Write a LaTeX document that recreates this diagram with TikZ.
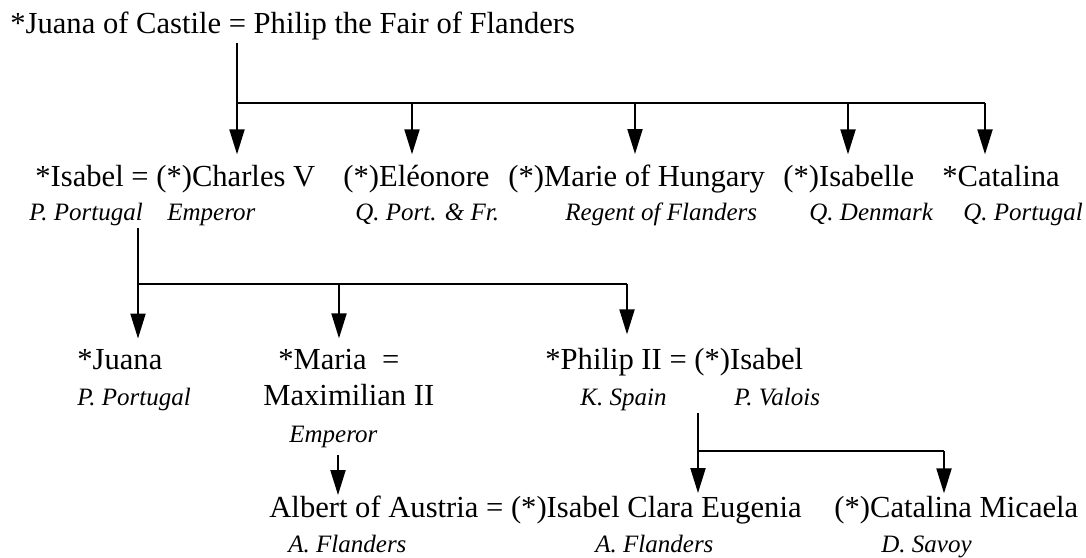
\documentclass[tikz,border=0pt]{standalone}
\usepackage{fontspec}
\setmainfont{Liberation Serif}
\usetikzlibrary{arrows.meta,calc}

\begin{document}
\begin{tikzpicture}[x=0.5pt, y=-0.5pt,
    person/.style={anchor=base west, inner sep=0pt, font=\fontsize{15.3}{18}\selectfont},
    rank/.style={anchor=base west, inner sep=0pt, font=\fontsize{12.5}{15}\selectfont\itshape},
    line/.style={line width=1pt},
    desc/.style={line width=1pt, shorten >=5pt, -{Triangle[length=12.5pt, width=7.5pt]}}]
  \useasboundingbox (0,0) rectangle (1086,557);

  % generation 0
  \node[person] (j_0) at (10,33) {*Juana of Castile = Philip the Fair of Flanders};

  % generation 1
  \node[person] (c_1) at (35,186)  {*Isabel = (*)Charles V};
  \node[person] (c_2) at (343,186) {(*)Eléonore};
  \node[person] (c_3) at (508,186) {(*)Marie of Hungary};
  \node[person] (c_4) at (783,186) {(*)Isabelle};
  \node[person] (c_5) at (942,186) {*Catalina};
  \node[rank] (t_1a) at (29,220)  {P. Portugal};
  \node[rank] (t_1b) at (167,220) {Emperor};
  \node[rank] (t_2) at (355,220)  {Q. Port. \& Fr.};
  \node[rank] (t_3) at (565,220)  {Regent of Flanders};
  \node[rank] (t_4) at (809,220)  {Q. Denmark};
  \node[rank] (t_5) at (963,220)  {Q. Portugal};

  % generation 2
  \node[person] (g_1) at (77,369)  {*Juana};
  \node[person] (g_2) at (278,369) {*Maria\enspace=};
  \node[person] (g_3) at (545,369) {*Philip II = (*)Isabel};
  \node[rank] (s_1) at (77,405)    {P. Portugal};
  \node[person] (g_2b) at (263,405) {Maximilian II};
  \node[rank] (s_2) at (289,442)   {Emperor};
  \node[rank] (s_3a) at (580,405)  {K. Spain};
  \node[rank] (s_3b) at (734,405)  {P. Valois};

  % generation 3
  \node[person] (h_1) at (269,517) {Albert of Austria = (*)Isabel Clara Eugenia};
  \node[person] (h_2) at (834,517) {(*)Catalina Micaela};
  \node[rank] (u_1a) at (288,552)  {A. Flanders};
  \node[rank] (u_1b) at (595,552)  {A. Flanders};
  \node[rank] (u_2) at (881,552)   {D. Savoy};

  % descent lines
  \coordinate (d_1) at (237,103);
  \coordinate (d_2) at (412,103);
  \coordinate (d_3) at (635,103);
  \coordinate (d_4) at (848,103);
  \coordinate (d_5) at (985,103);
  \draw[line, shorten <=1.5pt] (j_0.south -| d_1) -- (d_1) -- (d_5);
  \foreach \i in {1,...,5}
    \draw[desc] (d_\i) -- (d_\i |- c_\i.north);

  \coordinate (e_1) at (138,284);
  \coordinate (e_2) at (339,284);
  \coordinate (e_3) at (627,284);
  \draw[line, shorten <=1pt] (t_1a.south -| e_1) -- (e_1) -- (e_3);
  \foreach \i in {1,2}
    \draw[desc] (e_\i) -- (e_\i |- g_\i.north);
  \draw[desc, shorten >=6.5pt] (e_3) -- (e_3 |- g_3.north);

  \coordinate (m_1) at (338,455);
  \draw[desc, shorten >=0pt] (m_1) -- (m_1 |- h_1.north);

  \coordinate (f_1) at (698,451);
  \coordinate (f_2) at (944,451);
  \draw[desc, shorten <=1pt, shorten >=1pt] (s_3a.south -| f_1) -- (f_1 |- h_1.north);
  \draw[line] (f_1) -- (f_2);
  \draw[desc, shorten >=1pt] (f_2) -- (f_2 |- h_2.north);
\end{tikzpicture}
\end{document}
